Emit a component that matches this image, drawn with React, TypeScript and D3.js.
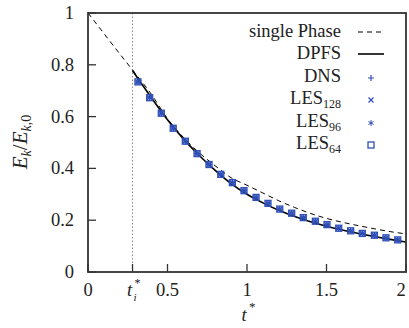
import React from "react";
import * as d3 from "d3";

// single-phase reference decay (dashed)
const singleT = [0, 0.1, 0.2, 0.28, 0.4, 0.5, 0.6, 0.7, 0.8, 0.9, 1.0, 1.1, 1.2, 1.3, 1.4, 1.5, 1.6, 1.7, 1.8, 1.9, 2.0];
const singleE = [1, 0.921, 0.842, 0.78, 0.685, 0.592, 0.52, 0.46, 0.41, 0.364, 0.335, 0.305, 0.275, 0.249, 0.226, 0.207, 0.192, 0.179, 0.167, 0.156, 0.147];

// DPFS model (solid), starts at t_i*
const dpfsT = [0.28, 0.35, 0.4, 0.5, 0.6, 0.7, 0.8, 0.9, 1.0, 1.1, 1.2, 1.3, 1.4, 1.5, 1.6, 1.7, 1.8, 1.9, 2.0];
const dpfsE = [0.778, 0.715, 0.672, 0.588, 0.514, 0.45, 0.392, 0.341, 0.3, 0.267, 0.238, 0.214, 0.194, 0.177, 0.162, 0.149, 0.137, 0.126, 0.116];

// simulation samples (all four sets sit on top of each other)
const sampleT = [0.314, 0.388, 0.461, 0.536, 0.612, 0.686, 0.761, 0.835, 0.908, 0.981, 1.057, 1.132, 1.206, 1.281, 1.354, 1.43, 1.503, 1.577, 1.652, 1.725, 1.801, 1.874, 1.948];
const dnsE = [0.734, 0.673, 0.613, 0.555, 0.505, 0.457, 0.415, 0.377, 0.345, 0.314, 0.288, 0.265, 0.243, 0.227, 0.21, 0.196, 0.183, 0.169, 0.159, 0.149, 0.142, 0.132, 0.124];
const les128E = [0.734, 0.673, 0.613, 0.555, 0.505, 0.457, 0.415, 0.377, 0.345, 0.314, 0.288, 0.265, 0.243, 0.227, 0.21, 0.196, 0.183, 0.169, 0.159, 0.149, 0.142, 0.132, 0.124];
const les96E = [0.734, 0.673, 0.613, 0.555, 0.505, 0.457, 0.415, 0.377, 0.345, 0.314, 0.288, 0.265, 0.243, 0.227, 0.21, 0.196, 0.183, 0.169, 0.159, 0.149, 0.142, 0.132, 0.124];
const les64E = [0.734, 0.673, 0.613, 0.555, 0.505, 0.457, 0.415, 0.377, 0.345, 0.314, 0.288, 0.265, 0.243, 0.227, 0.21, 0.196, 0.183, 0.169, 0.159, 0.149, 0.142, 0.132, 0.124];

const tInit = 0.28;
const xTicks = [0, 0.5, 1, 1.5, 2];
const yTicks = [0, 0.2, 0.4, 0.6, 0.8, 1];

const W = 409;
const H = 328;
const margin = { left: 88, right: 3, top: 13, bottom: 56 };
const blue = "#2f4fb8";
const font = "'Liberation Serif', 'Times New Roman', serif";

const Marker = ({ kind, x, y }: { kind: string; x: number; y: number }) => {
  const s = 3;
  if (kind === "plus")
    return <path d={`M${x - s},${y}H${x + s}M${x},${y - s}V${y + s}`} stroke={blue} strokeWidth={1.2} fill="none" />;
  if (kind === "cross")
    return <path d={`M${x - 2.5},${y - 2.5}L${x + 2.5},${y + 2.5}M${x - 2.5},${y + 2.5}L${x + 2.5},${y - 2.5}`} stroke={blue} strokeWidth={1.2} fill="none" />;
  if (kind === "star")
    return (
      <path
        d={`M${x},${y - s}V${y + s}M${x - 2.6},${y - 1.5}L${x + 2.6},${y + 1.5}M${x - 2.6},${y + 1.5}L${x + 2.6},${y - 1.5}`}
        stroke={blue}
        strokeWidth={1}
        fill="none"
      />
    );
  return <rect x={x - 3} y={y - 3} width={6} height={6} stroke={blue} strokeWidth={1.3} fill="none" />;
};

const App = () => {
  const x = d3.scaleLinear().domain([0, 2]).range([margin.left, W - margin.right]);
  const y = d3.scaleLinear().domain([0, 1]).range([H - margin.bottom, margin.top]);
  const line = d3
    .line<[number, number]>()
    .x((d) => x(d[0]))
    .y((d) => y(d[1]))
    .curve(d3.curveMonotoneX);

  const singlePath = line(singleT.map((t, i) => [t, singleE[i]]) as [number, number][]) || "";
  const dpfsPath = line(dpfsT.map((t, i) => [t, dpfsE[i]]) as [number, number][]) || "";

  const series = [
    { kind: "plus", values: dnsE },
    { kind: "cross", values: les128E },
    { kind: "star", values: les96E },
    { kind: "square", values: les64E },
  ];

  const [x0, x1] = x.range();
  const [y0, y1] = y.range();
  const fs = 18.5;

  const legendTextX = 341;
  const legendSampleX = 358;
  const legendRows = [
    { y: 37, label: "single Phase", sub: "", kind: "dash" },
    { y: 59, label: "DPFS", sub: "", kind: "solid" },
    { y: 82, label: "DNS", sub: "", kind: "plus" },
    { y: 104, label: "LES", sub: "128", kind: "cross" },
    { y: 127, label: "LES", sub: "96", kind: "star" },
    { y: 149, label: "LES", sub: "64", kind: "square" },
  ];

  return (
    <svg width={W} height={H} style={{ position: "absolute", left: 0, top: 0, background: "#fff" }} fontFamily={font}>
      {/* t_i* marker line */}
      <line x1={x(tInit)} x2={x(tInit)} y1={y1} y2={y0} stroke="#888" strokeWidth={1} strokeDasharray="1.5,2" />

      {/* curves */}
      <path d={singlePath} fill="none" stroke="#000" strokeWidth={1} strokeDasharray="5,4" />
      <path d={dpfsPath} fill="none" stroke="#000" strokeWidth={1.6} />

      {/* samples */}
      {series.map((s) =>
        sampleT.map((t, i) => <Marker key={s.kind + i} kind={s.kind} x={x(t)} y={y(s.values[i])} />)
      )}

      {/* ticks */}
      {[...xTicks, tInit].map((t) => (
        <line key={"xt" + t} x1={x(t)} x2={x(t)} y1={y0} y2={y0 - 8} stroke="#333" strokeWidth={1.3} />
      ))}
      {yTicks.map((v) => (
        <line key={"yt" + v} x1={x0} x2={x0 + 8} y1={y(v)} y2={y(v)} stroke="#333" strokeWidth={1.3} />
      ))}

      {/* frame */}
      <rect x={x0} y={y1} width={x1 - x0} height={y0 - y1} fill="none" stroke="#333" strokeWidth={1.8} />

      {/* tick labels */}
      {xTicks.map((t) => (
        <text key={"xl" + t} x={t === 2 ? x(t) - 5 : x(t)} y={296} fontSize={fs} textAnchor="middle" fill="#222">
          {d3.format("")(t)}
        </text>
      ))}
      <text x={x(tInit) - 3} y={296} fontSize={fs} fontStyle="italic" textAnchor="middle" fill="#222">
        t
      </text>
      <text x={x(tInit) + 1} y={301} fontSize={11} fontStyle="italic" fill="#222">
        i
      </text>
      <text x={x(tInit) + 2} y={287} fontSize={12} fill="#222">
        *
      </text>
      {yTicks.map((v) => (
        <text key={"yl" + v} x={74} y={y(v) + 6} fontSize={fs} textAnchor="end" fill="#222">
          {d3.format("")(v)}
        </text>
      ))}

      {/* axis titles */}
      <text x={244} y={321} fontSize={fs} fontStyle="italic" textAnchor="middle" fill="#222">
        t
      </text>
      <text x={249} y={311} fontSize={13} fill="#222">
        *
      </text>
      <text transform="translate(27,142) rotate(-90)" fontSize={21} textAnchor="middle" fill="#222">
        <tspan fontStyle="italic">E</tspan>
        <tspan fontStyle="italic" fontSize={14} dy={4}>k</tspan>
        <tspan dy={-4}>/</tspan>
        <tspan fontStyle="italic">E</tspan>
        <tspan fontStyle="italic" fontSize={14} dy={4}>k</tspan>
        <tspan fontSize={14}>,0</tspan>
      </text>

      {/* legend */}
      {legendRows.map((r) => (
        <g key={r.label + r.sub}>
          <text x={legendTextX} y={r.y} fontSize={fs} textAnchor="end" fill="#222">
            {r.label}
            {r.sub && (
              <tspan fontSize={12} dy={4}>
                {r.sub}
              </tspan>
            )}
          </text>
          {r.kind === "dash" && (
            <line x1={legendSampleX} x2={legendSampleX + 25} y1={r.y - 5} y2={r.y - 5} stroke="#000" strokeWidth={1} strokeDasharray="5,4" />
          )}
          {r.kind === "solid" && (
            <line x1={legendSampleX} x2={legendSampleX + 26} y1={r.y - 5} y2={r.y - 5} stroke="#000" strokeWidth={1.6} />
          )}
          {r.kind !== "dash" && r.kind !== "solid" && <Marker kind={r.kind} x={371} y={r.y - 4} />}
        </g>
      ))}
    </svg>
  );
};

export default App;
